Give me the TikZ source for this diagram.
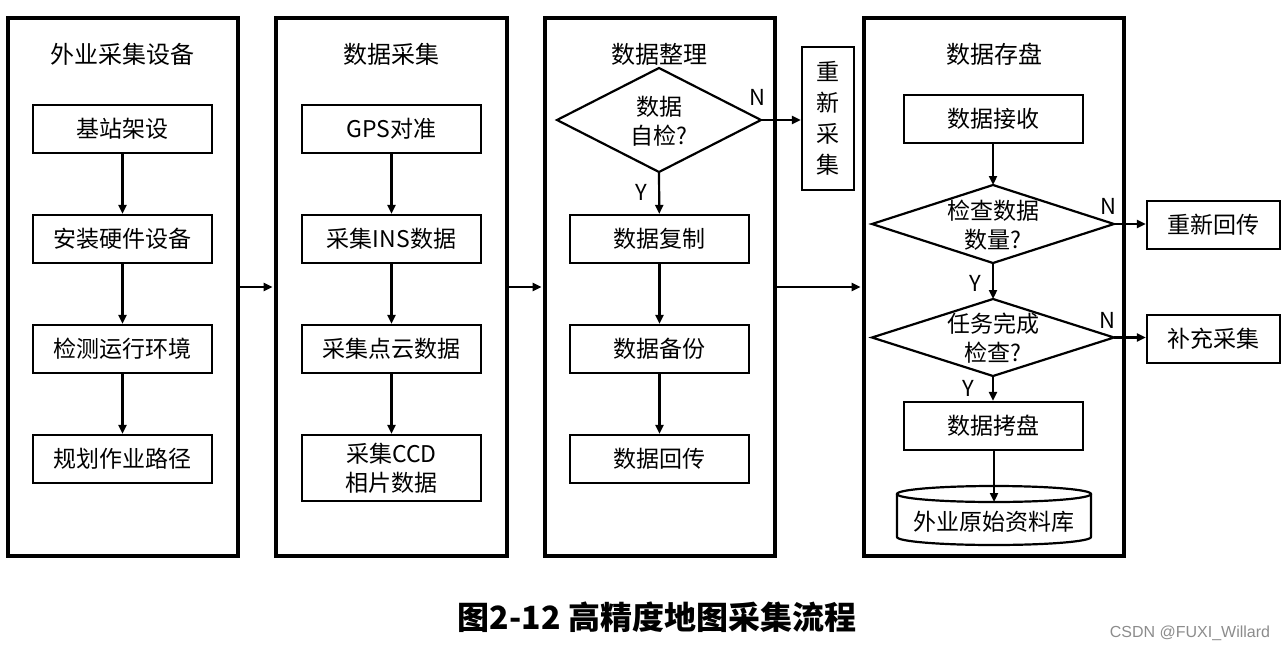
\documentclass[tikz,border=0pt]{standalone}
\usepackage{fontspec}
\setmainfont{Noto Sans CJK SC}
\newfontfamily\wmfont{Liberation Sans}
\usetikzlibrary{arrows.meta}
\begin{document}
\begin{tikzpicture}[x=1pt,y=-1pt,
  colframe/.style={draw, line width=3.4pt, inner sep=0pt},
  stepbox/.style={draw, line width=2.2pt, minimum width=179pt, minimum height=48pt, inner sep=0pt, align=center, font=\fontsize{23}{29}\selectfont},
  ttl/.style={font=\fontsize{24}{28}\selectfont, inner sep=0pt},
  lbl/.style={font=\fontsize{22}{24}\selectfont, inner sep=0pt},
  dia/.style={draw, line width=2.2pt, line join=miter},
  arr/.style={line width=2.2pt, -{Triangle[length=9pt,width=8pt]}},
  bigarr/.style={line width=2.2pt, -{Triangle[length=9pt,width=8pt]}, shorten >=1.7pt}
]
\useasboundingbox (0,0) rectangle (1286,651);
% column frames
\node[colframe, minimum width=230pt, minimum height=538pt] (c1) at (123,287) {};
\node[colframe, minimum width=231pt, minimum height=538pt] (c2) at (391.5,287) {};
\node[colframe, minimum width=230pt, minimum height=538pt] (c3) at (660,287) {};
\node[colframe, minimum width=260pt, minimum height=538pt] (c4) at (994,287) {};
% titles
\node[ttl] (t1) at (122,54) {外业采集设备};
\node[ttl] (t2) at (391,54) {数据采集};
\node[ttl] (t3) at (659,54) {数据整理};
\node[ttl] (t4) at (994,54) {数据存盘};
% column 1
\node[stepbox] (a1) at (122.5,129) {基站架设};
\node[stepbox] (a2) at (122.5,239) {安装硬件设备};
\node[stepbox] (a3) at (122.5,349) {检测运行环境};
\node[stepbox] (a4) at (122.5,459) {规划作业路径};
\draw[arr] (a1) -- (a2);
\draw[arr] (a2) -- (a3);
\draw[arr] (a3) -- (a4);
% column 2
\node[stepbox] (b1) at (391.5,129) {GPS对准};
\node[stepbox] (b2) at (391.5,239) {采集INS数据};
\node[stepbox] (b3) at (391.5,349) {采集点云数据};
\node[stepbox, minimum height=66pt] (b4) at (391.5,468) {采集CCD\\相片数据};
\draw[arr] (b1) -- (b2);
\draw[arr] (b2) -- (b3);
\draw[arr] (b3) -- (b4);
% column 3
\coordinate (d1t) at (659,68);
\coordinate (d1r) at (761,120);
\coordinate (d1b) at (659,172);
\coordinate (d1l) at (557,120);
\draw[dia] (d1t) -- (d1r) -- (d1b) -- (d1l) -- cycle;
\node[stepbox, draw=none, minimum width=0pt, minimum height=0pt] (d1) at (659,121) {数据\\自检?};
\node[stepbox, minimum width=52pt, minimum height=143pt, font=\fontsize{23}{31}\selectfont] (rc) at (828,118.5) {重\\新\\采\\集};
\draw[arr] (d1r) -- (d1r -| rc.west);
\node[lbl] (n1) at (757,97) {N};
\node[lbl] (y1) at (641,192) {Y};
\node[stepbox] (e1) at (659.5,239) {数据复制};
\node[stepbox] (e2) at (659.5,349) {数据备份};
\node[stepbox] (e3) at (659.5,459) {数据回传};
\draw[arr] (d1b) -- (e1);
\draw[arr] (e1) -- (e2);
\draw[arr] (e2) -- (e3);
% column 4
\node[stepbox] (f1) at (993.5,119) {数据接收};
\coordinate (d2t) at (993,185);
\coordinate (d2r) at (1114,224);
\coordinate (d2b) at (993,263);
\coordinate (d2l) at (872,224);
\draw[dia] (d2t) -- (d2r) -- (d2b) -- (d2l) -- cycle;
\node[stepbox, draw=none, minimum width=0pt, minimum height=0pt] (d2) at (993,225) {检查数据\\数量?};
\coordinate (d3t) at (993,299);
\coordinate (d3r) at (1114,337.5);
\coordinate (d3b) at (993,376);
\coordinate (d3l) at (872,337.5);
\draw[dia] (d3t) -- (d3r) -- (d3b) -- (d3l) -- cycle;
\node[stepbox, draw=none, minimum width=0pt, minimum height=0pt] (d3) at (993,338) {任务完成\\检查?};
\node[stepbox] (f2) at (993.5,426) {数据拷盘};
\node[stepbox, minimum width=133pt] (g1) at (1213.5,225) {重新回传};
\node[stepbox, minimum width=133pt] (g2) at (1213.5,339) {补充采集};
\draw[arr] (f1.south -| d2t) -- (d2t);
\draw[arr] (d2b) -- (d3t);
\draw[arr] (d3b) -- (f2.north -| d3b);
\draw[arr] (d2r) -- (d2r -| g1.west);
\draw[arr] (d3r) -- (d3r -| g2.west);
\node[lbl] (n2) at (1108,206) {N};
\node[lbl] (y2) at (975,283) {Y};
\node[lbl] (n3) at (1107,320) {N};
\node[lbl] (y3) at (968,388) {Y};
% database cylinder
\draw[line width=2.2pt] (897,494) -- (897,537) arc[start angle=180, end angle=0, x radius=97, y radius=8] -- (1091,494);
\draw[line width=2.2pt] (994,494) ellipse[x radius=97, y radius=8];
\coordinate (dbtop) at (994,502);
\node[stepbox, draw=none, minimum width=0pt, minimum height=0pt] (db) at (994,522) {外业原始资料库};
\draw[arr] (f2.south -| dbtop) -- (dbtop);
% inter-column arrows
\draw[bigarr] (c1.east) -- (c2.west);
\draw[bigarr] (c2.east) -- (c3.west);
\draw[bigarr] (c3.east) -- (c4.west);
% caption
\node[font=\fontsize{32}{36}\selectfont\bfseries, inner sep=0pt] (cap) at (657,617) {图2-12 高精度地图采集流程};
\node[font=\wmfont\fontsize{16}{18}\selectfont, text=black!45, inner sep=0pt] (wm) at (1190,633) {CSDN @FUXI\_Willard};
\end{tikzpicture}
\end{document}
